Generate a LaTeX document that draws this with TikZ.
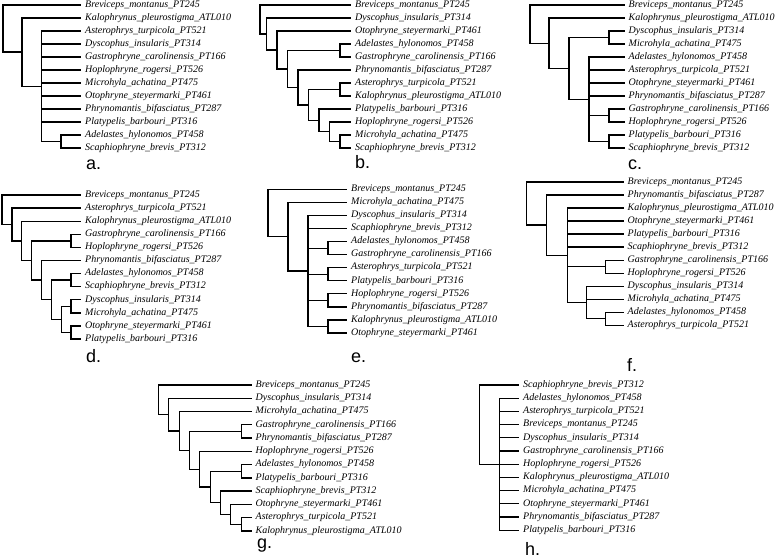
\documentclass[tikz,border=0pt]{standalone}
\usepackage{fontspec}
\setmainfont{Liberation Serif}
\newfontfamily\panelfont{Liberation Sans}
\usetikzlibrary{calc}
\tikzset{
 leaf/.style={anchor=west, inner xsep=4pt, inner ysep=0pt, text height=6.5pt, text depth=2pt, font=\itshape\fontsize{10}{12}\selectfont},
 br/.style={line width=1.35pt, draw=black},
 panel/.style={anchor=base west, inner sep=0pt, text height=10pt, font=\panelfont\fontsize{18}{20}\selectfont}
}
\newcommand\leafrow[5]{\foreach \t [count=\i from 0] in {#5} {\node[leaf] (#1\i) at (#2,{#3+#4*\i}) {\t};}}
\newcommand\inode[4]{\path let \p1=($(#3)!0.5!(#4)$) in (#2pt,\y1) coordinate (#1);}
\newcommand\kids[2]{\foreach \c in {#2} {\draw[br] (#1) |- (\c);}}
\begin{document}
\begin{tikzpicture}[x=1pt,y=-1pt]
\useasboundingbox (0,0) rectangle (778,559);
% ---------------- tree a
\leafrow{a}{81}{5}{13}{Breviceps\_montanus\_PT245,Kalophrynus\_pleurostigma\_ATL010,Asterophrys\_turpicola\_PT521,Dyscophus\_insularis\_PT314,Gastrophryne\_carolinensis\_PT166,Hoplophryne\_rogersi\_PT526,Microhyla\_achatina\_PT475,Otophryne\_steyermarki\_PT461,Phrynomantis\_bifasciatus\_PT287,Platypelis\_barbouri\_PT316,Adelastes\_hylonomos\_PT458,Scaphiophryne\_brevis\_PT312}
\inode{aP}{61}{a10}{a11}
\inode{aN3}{41.5}{a2}{aP}
\inode{aN2}{22}{a1}{aN3}
\inode{aR}{3}{a0}{aN2}
\kids{aP}{a10,a11}
\kids{aN3}{a2,a3,a4,a5,a6,a7,a8,a9,aP}
\kids{aN2}{a1,aN3}
\kids{aR}{a0,aN2}
\node[panel] (la) at (86,169) {a.};
% ---------------- tree b
\leafrow{b}{351}{5}{13}{Breviceps\_montanus\_PT245,Dyscophus\_insularis\_PT314,Otophryne\_steyermarki\_PT461,Adelastes\_hylonomos\_PT458,Gastrophryne\_carolinensis\_PT166,Phrynomantis\_bifasciatus\_PT287,Asterophrys\_turpicola\_PT521,Kalophrynus\_pleurostigma\_ATL010,Platypelis\_barbouri\_PT316,Hoplophryne\_rogersi\_PT526,Microhyla\_achatina\_PT475,Scaphiophryne\_brevis\_PT312}
\inode{bh1}{340}{b10}{b11}
\inode{bh2}{329.5}{b9}{bh1}
\inode{bh3}{319}{b8}{bh2}
\inode{bAK}{340}{b6}{b7}
\inode{bh4}{308.5}{bAK}{bh3}
\inode{bh5}{298}{b5}{bh4}
\inode{bAG}{340}{b3}{b4}
\inode{bh6}{287.5}{bAG}{bh5}
\inode{bh7}{277}{b2}{bh6}
\inode{bh8}{266.5}{b1}{bh7}
\inode{bR}{260}{b0}{bh8}
\kids{bh1}{b10,b11}
\kids{bh2}{b9,bh1}
\kids{bh3}{b8,bh2}
\kids{bAK}{b6,b7}
\kids{bh4}{bAK,bh3}
\kids{bh5}{b5,bh4}
\kids{bAG}{b3,b4}
\kids{bh6}{bAG,bh5}
\kids{bh7}{b2,bh6}
\kids{bh8}{b1,bh7}
\kids{bR}{b0,bh8}
\node[panel] (lb) at (355,168) {b.};
% ---------------- tree c
\leafrow{c}{624.5}{5}{13}{Breviceps\_montanus\_PT245,Kalophrynus\_pleurostigma\_ATL010,Dyscophus\_insularis\_PT314,Microhyla\_achatina\_PT475,Adelastes\_hylonomos\_PT458,Asterophrys\_turpicola\_PT521,Otophryne\_steyermarki\_PT461,Phrynomantis\_bifasciatus\_PT287,Gastrophryne\_carolinensis\_PT166,Hoplophryne\_rogersi\_PT526,Platypelis\_barbouri\_PT316,Scaphiophryne\_brevis\_PT312}
\inode{cDM}{609}{c2}{c3}
\inode{cGH}{609}{c8}{c9}
\inode{cPS}{609}{c10}{c11}
\inode{cPo}{589}{c4}{cPS}
\inode{cN3}{569}{cDM}{cPo}
\inode{cN2}{549}{c1}{cN3}
\inode{cR}{530}{c0}{cN2}
\kids{cDM}{c2,c3}
\kids{cGH}{c8,c9}
\kids{cPS}{c10,c11}
\kids{cPo}{c4,c5,c6,c7,cGH,cPS}
\kids{cN3}{cDM,cPo}
\kids{cN2}{c1,cN3}
\kids{cR}{c0,cN2}
\node[panel] (lc) at (628,169) {c.};
% ---------------- tree d
\leafrow{d}{81}{195}{13.1}{Breviceps\_montanus\_PT245,Asterophrys\_turpicola\_PT521,Kalophrynus\_pleurostigma\_ATL010,Gastrophryne\_carolinensis\_PT166,Hoplophryne\_rogersi\_PT526,Phrynomantis\_bifasciatus\_PT287,Adelastes\_hylonomos\_PT458,Scaphiophryne\_brevis\_PT312,Dyscophus\_insularis\_PT314,Microhyla\_achatina\_PT475,Otophryne\_steyermarki\_PT461,Platypelis\_barbouri\_PT316}
\inode{dGH}{71.1}{d3}{d4}
\inode{dAS}{71.1}{d6}{d7}
\inode{dDM}{71.1}{d8}{d9}
\inode{dOP}{71.1}{d10}{d11}
\inode{dh2}{61.3}{dDM}{dOP}
\inode{dh3}{51.4}{dAS}{dh2}
\inode{dh4}{41.5}{d5}{dh3}
\inode{dh5}{31.6}{dGH}{dh4}
\inode{dh6}{21.8}{d2}{dh5}
\inode{dh7}{11.9}{d1}{dh6}
\inode{dR}{2}{d0}{dh7}
\kids{dGH}{d3,d4}
\kids{dAS}{d6,d7}
\kids{dDM}{d8,d9}
\kids{dOP}{d10,d11}
\kids{dh2}{dDM,dOP}
\kids{dh3}{dAS,dh2}
\kids{dh4}{d5,dh3}
\kids{dh5}{dGH,dh4}
\kids{dh6}{d2,dh5}
\kids{dh7}{d1,dh6}
\kids{dR}{d0,dh7}
\node[panel] (ld) at (86,362) {d.};
% ---------------- tree e
\leafrow{e}{347}{189.5}{13.04}{Breviceps\_montanus\_PT245,Microhyla\_achatina\_PT475,Dyscophus\_insularis\_PT314,Scaphiophryne\_brevis\_PT312,Adelastes\_hylonomos\_PT458,Gastrophryne\_carolinensis\_PT166,Asterophrys\_turpicola\_PT521,Platypelis\_barbouri\_PT316,Hoplophryne\_rogersi\_PT526,Phrynomantis\_bifasciatus\_PT287,Kalophrynus\_pleurostigma\_ATL010,Otophryne\_steyermarki\_PT461}
\inode{eAG}{328}{e4}{e5}
\inode{eAP}{328}{e6}{e7}
\inode{eHP}{328}{e8}{e9}
\inode{eKO}{328}{e10}{e11}
\inode{ePo}{308}{e2}{eKO}
\inode{eN}{288}{e1}{ePo}
\inode{eR}{268}{e0}{eN}
\kids{eAG}{e4,e5}
\kids{eAP}{e6,e7}
\kids{eHP}{e8,e9}
\kids{eKO}{e10,e11}
\kids{ePo}{e2,e3,eAG,eAP,eHP,eKO}
\kids{eN}{e1,ePo}
\kids{eR}{e0,eN}
\node[panel] (le) at (351,362) {e.};
% ---------------- tree f
\leafrow{f}{623.5}{182}{13.03}{Breviceps\_montanus\_PT245,Phrynomantis\_bifasciatus\_PT287,Kalophrynus\_pleurostigma\_ATL010,Otophryne\_steyermarki\_PT461,Platypelis\_barbouri\_PT316,Scaphiophryne\_brevis\_PT312,Gastrophryne\_carolinensis\_PT166,Hoplophryne\_rogersi\_PT526,Dyscophus\_insularis\_PT314,Microhyla\_achatina\_PT475,Adelastes\_hylonomos\_PT458,Asterophrys\_turpicola\_PT521}
\inode{fGH}{605.3}{f6}{f7}
\inode{fAA}{605.3}{f10}{f11}
\inode{fDM}{586.3}{f8}{fAA}
\inode{fPo}{567.3}{f2}{fDM}
\inode{fN}{546.3}{f1}{fPo}
\inode{fR}{526.3}{f0}{fN}
\kids{fGH}{f6,f7}
\kids{fAA}{f10,f11}
\kids{fDM}{f8,f9,fAA}
\kids{fPo}{f2,f3,f4,f5,fGH,fDM}
\kids{fN}{f1,fPo}
\kids{fR}{f0,fN}
\node[panel] (lf) at (627,371) {f.};
% ---------------- tree g
\leafrow{g}{251.5}{385}{13.27}{Breviceps\_montanus\_PT245,Dyscophus\_insularis\_PT314,Microhyla\_achatina\_PT475,Gastrophryne\_carolinensis\_PT166,Phrynomantis\_bifasciatus\_PT287,Hoplophryne\_rogersi\_PT526,Adelastes\_hylonomos\_PT458,Platypelis\_barbouri\_PT316,Scaphiophryne\_brevis\_PT312,Otophryne\_steyermarki\_PT461,Asterophrys\_turpicola\_PT521,Kalophrynus\_pleurostigma\_ATL010}
\inode{gAK}{241.2}{g10}{g11}
\inode{gh2}{230.8}{g9}{gAK}
\inode{gh3}{220.5}{g8}{gh2}
\inode{gAP}{241.2}{g6}{g7}
\inode{gh4}{210.2}{gAP}{gh3}
\inode{gh5}{199.8}{g5}{gh4}
\inode{gGP}{241.2}{g3}{g4}
\inode{gh6}{189.5}{gGP}{gh5}
\inode{gh7}{179.2}{g2}{gh6}
\inode{gh8}{168.8}{g1}{gh7}
\inode{gR}{158.5}{g0}{gh8}
\kids{gAK}{g10,g11}
\kids{gh2}{g9,gAK}
\kids{gh3}{g8,gh2}
\kids{gAP}{g6,g7}
\kids{gh4}{gAP,gh3}
\kids{gh5}{g5,gh4}
\kids{gGP}{g3,g4}
\kids{gh6}{gGP,gh5}
\kids{gh7}{g2,gh6}
\kids{gh8}{g1,gh7}
\kids{gR}{g0,gh8}
\node[panel] (lg) at (257,548) {g.};
% ---------------- tree h
\leafrow{h}{519}{385}{13.2}{Scaphiophryne\_brevis\_PT312,Adelastes\_hylonomos\_PT458,Asterophrys\_turpicola\_PT521,Breviceps\_montanus\_PT245,Dyscophus\_insularis\_PT314,Gastrophryne\_carolinensis\_PT166,Hoplophryne\_rogersi\_PT526,Kalophrynus\_pleurostigma\_ATL010,Microhyla\_achatina\_PT475,Otophryne\_steyermarki\_PT461,Phrynomantis\_bifasciatus\_PT287,Platypelis\_barbouri\_PT316}
\inode{hPo}{499.3}{h1}{h11}
\inode{hR}{479.3}{h0}{hPo}
\kids{hPo}{h1,h2,h3,h4,h5,h6,h7,h8,h9,h10,h11}
\kids{hR}{h0,hPo}
\node[panel] (lh) at (525,555) {h.};
\end{tikzpicture}
\end{document}
